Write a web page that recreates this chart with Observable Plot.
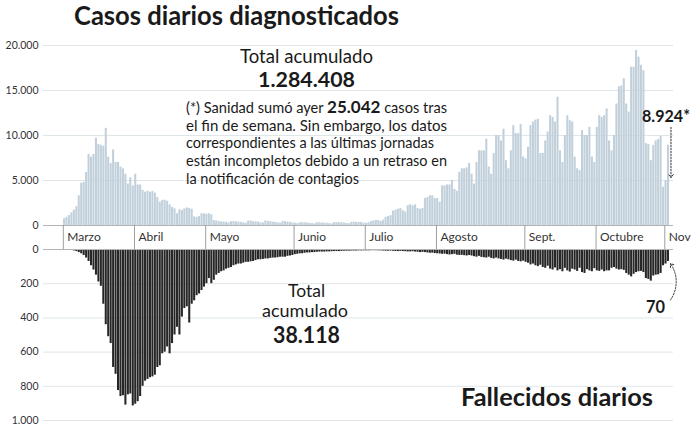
<!DOCTYPE html>
<html><head><meta charset="utf-8">
<script src="https://cdn.jsdelivr.net/npm/d3@7"></script>
<script src="https://cdn.jsdelivr.net/npm/@observablehq/plot@0.6"></script>
<style>
html,body{margin:0;padding:0;background:#fff;}
#chart{position:relative;width:693px;height:438px;overflow:hidden;background:#fff;}
#chart > svg{position:absolute;left:0;top:0;}
</style></head><body>
<div id="chart"></div>
<script>
// ---- data ----
const startDate = "2020-03-01";
const cases = [
  740, 900, 1100, 1400, 1700, 2100, 3300, 4700, 4800, 5900, 7900, 7600, 7900, 9700, 9000, 8900, 8800, 10800,
  7600, 6900, 8400, 7000, 7000, 6500, 6300, 5700, 4600, 5300, 4400, 5700, 4500, 4500, 3900, 3700, 3800, 3700,
  3800, 3600, 3100, 2600, 2800, 2800, 2700, 2300, 2000, 1850, 1300, 1750, 1650, 1850, 1950, 1900, 1800, 950,
  900, 1000, 1300, 1300, 1250, 1300, 1200,
  550, 500, 450, 400, 380, 350, 300, 420, 450, 400, 380, 350, 300, 260, 480, 500, 420, 400, 380, 300, 280,
  500, 450, 420, 380, 350, 300, 250, 450, 420, 380, 350, 300,
  250, 200, 300, 320, 300, 280, 250, 200, 180, 300, 300, 280, 260, 250, 200, 180, 320, 330, 300, 300, 280,
  220, 200, 350, 380, 350, 340, 330, 260, 240,
  300, 420, 500, 550, 550, 450, 600, 900, 1000, 1100, 1600, 1700, 1800, 1900, 1650, 1500, 2200, 2300, 2200,
  2300, 1900, 1800, 1900, 3000, 3100,
  3300, 3300, 3000, 3000, 2600, 4400, 4400, 4500, 4500, 5000, 4000, 3800, 5900, 6300, 6300, 6400, 6900, 5700,
  4600, 7000, 8300, 8300, 8300, 9600, 6500, 5700, 8000, 10000, 10000, 9400, 10700, 7200, 6300, 8300, 11100,
  10200, 10200, 11200, 7600, 7400, 8700, 11100, 11500, 11700, 11800, 8000, 8000, 9400, 10400, 12200, 12000,
  11500, 14250, 8300, 7000, 10000, 12200, 11650, 11500, 7600, 6300, 6100, 10550, 10000, 10000, 10900, 7600,
  7000, 10900, 12200, 12000, 12200, 12950, 9400, 8300, 10000, 13500, 15400, 15500, 16300, 13500, 12600, 17600,
  17600, 19450, 18700, 17800, 17200, 9100, 9000, 7200, 8900, 9400, 9550, 9900, 4250, 5000, 8924
];
const deaths = [
  3, 4, 5, 6, 8, 12, 18, 25, 35, 50, 70, 95, 120, 150, 190, 215,
  320, 440, 510, 550, 690, 730, 825, 860, 855, 910, 850, 845, 915, 905, 890,
  860, 800, 770, 760, 750, 745, 735, 690, 680, 610, 600, 570, 610, 550, 500,
  455, 500, 395, 345, 335, 430, 320, 300, 270, 260, 240, 220, 200, 170, 200,
  180, 150, 140, 130, 125, 115, 110, 105, 95, 90, 85, 85, 80, 75, 75,
  72, 70, 65, 60, 60, 58, 55, 55, 52, 50, 50, 48, 45, 45, 45, 40, 38, 35,
  30, 28, 25, 25, 22, 20, 20, 18, 18, 16, 15, 15, 15, 14, 14, 13, 12, 12, 12, 11, 10, 10, 10, 9, 9, 9, 8, 8, 8,
  8, 8, 7, 7, 7, 8, 8, 9, 10, 10, 9, 10, 12, 12, 11, 12, 13, 14, 14, 13, 15, 16, 18, 17, 18, 20, 22, 21, 24, 25,
  26, 28, 27, 30, 32, 30, 28, 33, 35, 34, 36, 38, 35,
  38, 42, 45, 40, 46, 48, 50, 45, 52, 55, 50,
  55, 58, 62, 56, 60, 65, 68, 62, 70, 72, 68,
  75, 80, 90, 85, 95, 100, 92, 105, 110, 98, 115, 120, 108, 125, 118, 130, 110, 125, 132, 115,
  120, 128, 110, 135, 140, 118, 125, 130, 112, 125, 128, 120, 130, 125,
  125, 110, 105, 115, 120, 118, 122, 140, 150, 160, 145, 135, 130, 128, 135, 170, 175, 185, 155, 150, 148, 140, 95, 85, 70
];
const casesTicks = [0, 5000, 10000, 15000, 20000];
const deathsTicks = [0, 200, 400, 600, 800, 1000];
const monthLabels = ["Marzo", "Abril", "Mayo", "Junio", "Julio", "Agosto", "Sept.", "Octubre", "Nov"];
const monthBreaks = ["2020-03-01", "2020-03-30", "2020-04-28", "2020-06-03", "2020-07-02", "2020-07-31", "2020-09-05", "2020-10-04", "2020-11-01"];

// ---- build ----
const fmt = d3.formatLocale({decimal: ",", thousands: ".", grouping: [3], currency: ["", "€"]}).format(",d");
const start = new Date(startDate);
const data = cases.map((c, i) => ({date: d3.utcDay.offset(start, i), cases: c, deaths: deaths[i]}));
const last = data[data.length - 1];
const mid = d => d3.utcHour.offset(d.date, 12);
const next = d => d3.utcDay.offset(d.date, 1);
const breaks = monthBreaks.map(s => new Date(s));
const xScale = {type: "utc", domain: [start, d3.utcDay.offset(start, cases.length)], range: [62.8, 669.2], axis: null};
const baseStyle = {background: "transparent", fontFamily: "Lato, 'Open Sans', sans-serif", overflow: "visible"};
const chart = document.getElementById("chart");

const pCases = Plot.plot({
  width: 693, height: 438, marginTop: 45, marginBottom: 213, marginLeft: 43, marginRight: 20,
  x: xScale,
  y: {domain: [0, 20000], axis: null},
  style: baseStyle,
  marks: [
    Plot.ruleY(casesTicks.slice(1), {stroke: "#dfe6ea", strokeWidth: 1}),
    Plot.rectY(data, {x1: "date", x2: next, y: "cases", fill: "#c1d0db", insetLeft: 0.2, insetRight: 0.2}),
    Plot.ruleY([0], {stroke: "#b4b4b4"}),
    Plot.text(casesTicks, {y: d => d, text: d => fmt(d), frameAnchor: "left", textAnchor: "end", dx: -5, fontSize: 10.5, fill: "#333"}),
    Plot.arrow([last], {x1: mid, x2: mid, y1: () => 10900, y2: () => 5300, dx: 2.5, stroke: "#333", strokeWidth: 1, strokeDasharray: "1.5,1.5", headLength: 6, headAngle: 70})
  ]
});
chart.appendChild(pCases);

const pDeaths = Plot.plot({
  width: 693, height: 438, marginTop: 249, marginBottom: 18, marginLeft: 43, marginRight: 20,
  x: xScale,
  y: {domain: [0, 1000], reverse: true, axis: null},
  style: baseStyle,
  marks: [
    Plot.ruleY(deathsTicks.slice(1), {stroke: "#dfe6ea", strokeWidth: 1}),
    Plot.rectY(data, {x1: "date", x2: next, y: "deaths", fill: "#262626", insetLeft: 0.2, insetRight: 0.2}),
    Plot.ruleY([0], {stroke: "#b4b4b4"}),
    Plot.text(deathsTicks, {y: d => d, text: d => fmt(d), frameAnchor: "left", textAnchor: "end", dx: -5, fontSize: 10.5, fill: "#333"}),
    Plot.arrow([last], {x1: mid, x2: mid, y1: () => 295, y2: () => 82, dx: 2, bend: -35, stroke: "#333", strokeWidth: 1, strokeDasharray: "1.5,1.5", headLength: 6, headAngle: 70})
  ]
});
chart.appendChild(pDeaths);

const pBand = Plot.plot({
  width: 693, height: 438, marginTop: 225, marginBottom: 189, marginLeft: 43, marginRight: 20,
  x: xScale,
  style: baseStyle,
  marks: [
    Plot.ruleX(breaks, {stroke: "#9e9e9e", strokeWidth: 1}),
    Plot.text(monthLabels, {x: (d, i) => breaks[i], text: d => d, frameAnchor: "middle", textAnchor: "start", dx: 4, fontSize: 12, fill: "#333"})
  ]
});
chart.appendChild(pBand);

// ---- annotations ----
const ns = "http://www.w3.org/2000/svg";
const ann = document.createElementNS(ns, "svg");
ann.setAttribute("width", 693); ann.setAttribute("height", 438);
ann.setAttribute("font-family", "Lato, 'Open Sans', sans-serif");
ann.setAttribute("fill", "#1a1a1a");
function txt(x, y, parts, opts = {}) {
  const t = document.createElementNS(ns, "text");
  t.setAttribute("x", x); t.setAttribute("y", y);
  t.setAttribute("font-size", opts.size || 15);
  if (opts.weight) t.setAttribute("font-weight", opts.weight);
  if (opts.anchor) t.setAttribute("text-anchor", opts.anchor);
  if (opts.len) { t.setAttribute("textLength", opts.len); t.setAttribute("lengthAdjust", "spacingAndGlyphs"); }
  (Array.isArray(parts) ? parts : [parts]).forEach(p => {
    const s = document.createElementNS(ns, "tspan");
    if (typeof p === "string") s.textContent = p;
    else { s.textContent = p.t; if (p.w) s.setAttribute("font-weight", p.w); if (p.s) s.setAttribute("font-size", p.s); }
    t.appendChild(s);
  });
  ann.appendChild(t);
}
txt(74, 25, "Casos diarios diagnosticados", {size: 26, weight: 700, len: 325});
txt(306.5, 63, "Total acumulado", {size: 19.5, anchor: "middle", len: 133});
txt(306.5, 87, fmt(1284408), {size: 20, weight: 700, anchor: "middle", len: 97});
txt(186, 112.7, ["(*) Sanidad sumó ayer ", {t: fmt(25042), w: 700, s: 17.5}, " casos tras"], {size: 15, len: 261});
txt(186, 130.5, "el fin de semana. Sin embargo, los datos", {size: 15, len: 261});
txt(186, 148.3, "correspondientes a las últimas jornadas", {size: 15, len: 248});
txt(186, 166, "están incompletos debido a un retraso en", {size: 15, len: 261});
txt(186, 183.7, "la notificación de contagios", {size: 15, len: 173});
txt(642, 122, fmt(last.cases) + "*", {size: 17, weight: 700, len: 48});
txt(306.5, 297.3, "Total", {size: 17.5, anchor: "middle"});
txt(305, 316.7, "acumulado", {size: 17.5, anchor: "middle", len: 86});
txt(306.5, 343.3, fmt(38118), {size: 22, weight: 700, anchor: "middle", len: 67});
txt(646, 313, fmt(last.deaths), {size: 16.5, weight: 700, len: 19});
txt(461, 406, "Fallecidos diarios", {size: 25, weight: 700, len: 192});
chart.appendChild(ann);
</script>
</body></html>
